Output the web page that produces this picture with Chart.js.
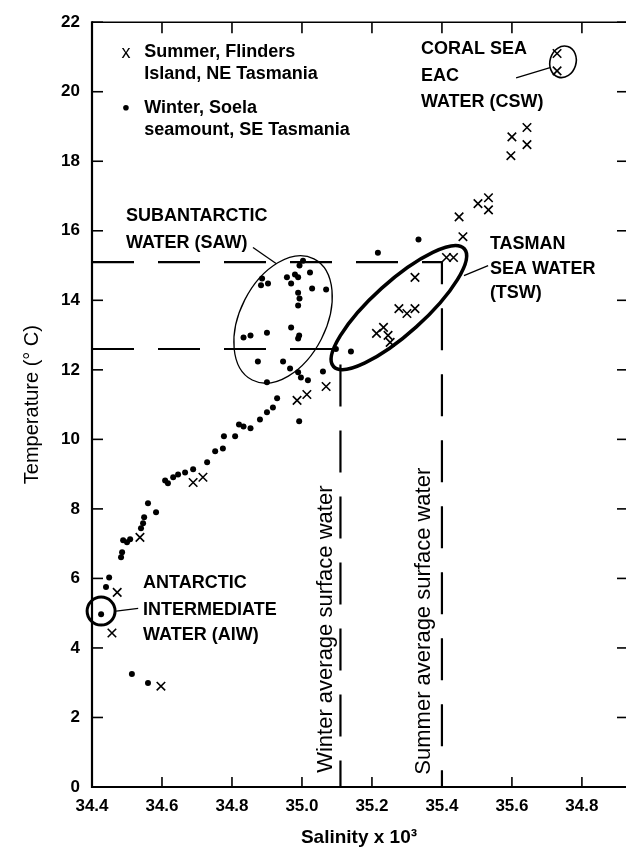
<!DOCTYPE html>
<html>
<head>
<meta charset="UTF-8">
<title>T-S diagram, Tasmanian waters</title>
<script src="https://cdn.jsdelivr.net/npm/chart.js@4.4.1/dist/chart.umd.min.js"></script>
<style>
  body { margin: 0; background: #fff; }
</style>
</head>
<body>
<canvas id="tsChart" width="626" height="851"></canvas>
<script>
// values (salinity x 10^3, temperature in C)
const summerSal  = [35.729, 35.729, 35.60, 35.643, 35.643, 35.597, 35.503, 35.533, 35.533, 35.449,
                    35.46, 35.413, 35.433, 35.323, 35.277, 35.30, 35.323, 35.213, 35.233, 35.246,
                    35.252, 34.986, 35.014, 35.069, 34.689, 34.717, 34.537, 34.472, 34.457, 34.597];
const summerTemp = [21.1, 20.6, 18.7, 18.97, 18.48, 18.16, 16.78, 16.95, 16.6, 16.4,
                    15.83, 15.23, 15.23, 14.66, 13.76, 13.62, 13.76, 13.05, 13.22, 12.99,
                    12.79, 11.12, 11.29, 11.52, 8.76, 8.91, 7.18, 5.6, 4.43, 2.9];

const winterSal  = [34.886, 34.883, 34.903, 34.957, 34.969, 34.98, 34.989, 34.993, 35.023, 35.003,
                    35.029, 35.069, 34.989, 34.993, 34.989, 34.833, 34.853, 34.90, 34.969, 34.992,
                    34.989, 34.874, 34.946, 34.966, 34.90, 34.989, 34.997, 35.017, 35.06,
                    34.929, 34.917, 34.90, 34.88, 34.992, 34.82, 34.833, 34.853, 34.809, 34.777,
                    34.774, 34.752, 34.729, 34.689, 34.666, 34.646, 34.632, 34.617, 34.609, 34.56,
                    34.583, 34.549, 34.546, 34.54, 34.509, 34.50, 34.489, 34.486, 34.483, 34.449,
                    34.44, 34.426, 34.514, 34.56,
                    35.333, 35.217, 35.14, 35.097];
const winterTemp = [14.63, 14.43, 14.48, 14.66, 14.48, 14.74, 14.66, 15.0, 14.8, 15.14,
                    14.34, 14.31, 14.22, 14.05, 13.85, 12.93, 12.99, 13.07, 13.22, 12.99,
                    12.9, 12.24, 12.24, 12.04, 11.64, 11.93, 11.78, 11.7, 11.95,
                    11.18, 10.92, 10.78, 10.57, 10.52, 10.43, 10.37, 10.32, 10.09, 10.09,
                    9.74, 9.66, 9.34, 9.14, 9.05, 8.99, 8.91, 8.74, 8.82, 8.16,
                    7.9, 7.76, 7.59, 7.44, 7.13, 7.04, 7.1, 6.75, 6.61, 6.03,
                    5.75, 4.97, 3.25, 2.99,
                    15.75, 15.37, 12.53, 12.6];

// average surface water: [salinity, temperature]
const winterAvg = [35.11, 12.6];
const summerAvg = [35.40, 15.1];

const salTicks = [34.4, 34.6, 34.8, 35.0, 35.2, 35.4, 35.6, 35.8];
const salTickLabels = ['34.4', '34.6', '34.8', '35.0', '35.2', '35.4', '35.6', '34.8'];
const tempTicks = [0, 2, 4, 6, 8, 10, 12, 14, 16, 18, 20, 22];

const FONT = "'Liberation Sans', Arial, Helvetica, sans-serif";

function pts(xs, ys) {
  return xs.map((v, i) => ({ x: v, y: ys[i] }));
}

// frame, inward ticks, water mass outlines and labels
const overlay = {
  id: 'overlay',
  afterDraw(chart) {
    const ctx = chart.ctx;
    const a = chart.chartArea;
    const X = v => chart.scales.x.getPixelForValue(v);
    const Y = v => chart.scales.y.getPixelForValue(v);
    const seg = (x1, y1, x2, y2) => { ctx.beginPath(); ctx.moveTo(x1, y1); ctx.lineTo(x2, y2); ctx.stroke(); };

    ctx.save();
    ctx.strokeStyle = '#000';
    ctx.fillStyle = '#000';

    // axes
    ctx.lineWidth = 2.2;
    seg(a.left, a.top - 1, a.left, a.bottom + 1);
    seg(a.left, a.bottom, a.right, a.bottom);
    ctx.lineWidth = 1.6;
    seg(a.left, a.top, a.right, a.top);

    ctx.lineWidth = 1.6;
    salTicks.forEach(v => {
      seg(X(v), a.bottom, X(v), a.bottom - 10);
      seg(X(v), a.top, X(v), a.top + 11);
    });
    tempTicks.forEach(v => {
      seg(a.left, Y(v), a.left + 11, Y(v));
      seg(a.right, Y(v), a.right - 9, Y(v));
    });

    // outlines
    ctx.lineWidth = 1.3;
    ctx.beginPath();
    ctx.ellipse(X(34.946), Y(13.45), 68, 43, -63 * Math.PI / 180, 0, 2 * Math.PI);
    ctx.stroke();

    ctx.lineWidth = 3.6;
    ctx.beginPath();
    ctx.ellipse(X(35.277), Y(13.79), 88, 26, -42 * Math.PI / 180, 0, 2 * Math.PI);
    ctx.stroke();

    ctx.lineWidth = 1.6;
    ctx.beginPath();
    ctx.ellipse(X(35.746), Y(20.86), 13, 16, 0.3, 0, 2 * Math.PI);
    ctx.stroke();

    ctx.lineWidth = 3;
    ctx.beginPath();
    ctx.arc(X(34.426), Y(5.06), 14, 0, 2 * Math.PI);
    ctx.stroke();

    // leader lines
    ctx.lineWidth = 1.3;
    seg(X(34.86), Y(15.52), X(34.926), Y(15.06));
    seg(X(35.463), Y(14.71), X(35.532), Y(15.0));
    seg(X(35.612), Y(20.4), X(35.709), Y(20.69));
    seg(X(34.469), Y(5.06), X(34.532), Y(5.14));

    // legend markers
    ctx.font = '18px ' + FONT;
    ctx.textAlign = 'center';
    ctx.textBaseline = 'middle';
    ctx.fillText('x', X(34.497), Y(21.12));
    ctx.beginPath();
    ctx.arc(X(34.497), Y(19.54), 2.8, 0, 2 * Math.PI);
    ctx.fill();

    // labels
    ctx.font = 'bold 18px ' + FONT;
    ctx.textAlign = 'left';
    const labels = [
      ['Summer, Flinders', 34.549, 21.15],
      ['Island, NE Tasmania', 34.549, 20.52],
      ['Winter, Soela', 34.549, 19.54],
      ['seamount, SE Tasmania', 34.549, 18.91],
      ['SUBANTARCTIC', 34.497, 16.41],
      ['WATER (SAW)', 34.497, 15.66],
      ['CORAL SEA', 35.34, 21.24],
      ['EAC', 35.34, 20.46],
      ['WATER (CSW)', 35.34, 19.71],
      ['TASMAN', 35.537, 15.63],
      ['SEA WATER', 35.537, 14.91],
      ['(TSW)', 35.537, 14.2],
      ['ANTARCTIC', 34.546, 5.86],
      ['INTERMEDIATE', 34.546, 5.09],
      ['WATER (AIW)', 34.546, 4.37]
    ];
    labels.forEach(l => ctx.fillText(l[0], X(l[1]), Y(l[2])));

    // vertical labels beside the average lines
    ctx.font = '22px ' + FONT;
    ctx.textAlign = 'center';
    [['Winter average surface water', 35.069, 4.54],
     ['Summer average surface water', 35.349, 4.77]].forEach(l => {
      ctx.save();
      ctx.translate(X(l[1]), Y(l[2]));
      ctx.rotate(-Math.PI / 2);
      ctx.fillText(l[0], 0, 0);
      ctx.restore();
    });

    ctx.restore();
  }
};

new Chart(document.getElementById('tsChart'), {
  type: 'scatter',
  data: {
    datasets: [{
      label: 'Summer, Flinders Island, NE Tasmania',
      data: pts(summerSal, summerTemp),
      pointStyle: 'crossRot',
      pointRadius: 6,
      borderColor: '#000',
      borderWidth: 1.6
    }, {
      label: 'Winter, Soela seamount, SE Tasmania',
      data: pts(winterSal, winterTemp),
      pointStyle: 'circle',
      pointRadius: 3,
      backgroundColor: '#000',
      borderWidth: 0
    }, {
      type: 'line',
      label: 'Winter average surface water',
      data: [{ x: 34.4, y: winterAvg[1] }, { x: winterAvg[0], y: winterAvg[1] }, { x: winterAvg[0], y: 0 }],
      borderColor: '#000',
      borderWidth: 2.2,
      borderDash: [42, 24],
      pointRadius: 0,
      fill: false,
      clip: false
    }, {
      type: 'line',
      label: 'Summer average surface water',
      data: [{ x: 34.4, y: summerAvg[1] }, { x: summerAvg[0], y: summerAvg[1] }, { x: summerAvg[0], y: 0 }],
      borderColor: '#000',
      borderWidth: 2.2,
      borderDash: [42, 24],
      pointRadius: 0,
      fill: false,
      clip: false
    }]
  },
  options: {
    responsive: false,
    animation: false,
    layout: { autoPadding: false, padding: { top: 20, right: 0, left: 0, bottom: 0 } },
    plugins: {
      legend: { display: false },
      tooltip: { enabled: false }
    },
    scales: {
      x: {
        type: 'linear',
        min: 34.4,
        max: 35.926,
        afterBuildTicks: s => { s.ticks = salTicks.map(v => ({ value: v })); },
        afterFit: s => { s.height = 64; },
        grid: { display: false, drawTicks: false },
        border: { display: false },
        ticks: {
          padding: 9,
          color: '#000',
          font: { family: FONT, size: 17, weight: 'bold' },
          maxRotation: 0,
          autoSkip: false,
          callback: (v, i) => salTickLabels[i]
        },
        title: {
          display: true,
          text: 'Salinity x 10³',
          color: '#000',
          font: { family: FONT, size: 19, weight: 'bold' },
          padding: { top: 0, bottom: 2 }
        }
      },
      y: {
        min: 0,
        max: 22,
        afterBuildTicks: s => { s.ticks = tempTicks.map(v => ({ value: v })); },
        afterFit: s => { s.width = 92; },
        grid: { display: false, drawTicks: false },
        border: { display: false },
        ticks: {
          padding: 12,
          color: '#000',
          font: { family: FONT, size: 17, weight: 'bold' }
        },
        title: {
          display: true,
          text: 'Temperature (° C)',
          color: '#000',
          font: { family: FONT, size: 20 },
          padding: { top: 20, bottom: 0 }
        }
      }
    }
  },
  plugins: [overlay]
});
</script>
</body>
</html>
